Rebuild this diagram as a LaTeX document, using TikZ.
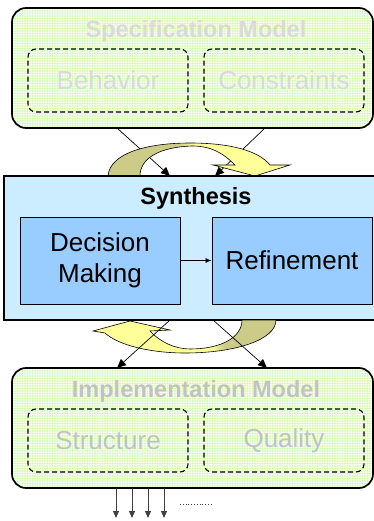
\documentclass[tikz,border=0pt]{standalone}
\usepackage{fontspec}
\setmainfont{Liberation Sans}
\usetikzlibrary{arrows.meta,patterns.meta}

\definecolor{dotgreen}{RGB}{204,255,153}
\definecolor{palegreen}{RGB}{246,253,238}
\definecolor{synthblue}{RGB}{204,236,255}
\definecolor{stageblue}{RGB}{153,204,255}
\definecolor{loopolive}{RGB}{204,204,136}
\definecolor{loopyellow}{RGB}{255,255,153}
\definecolor{fadetext}{RGB}{218,218,218}
\definecolor{greytext}{RGB}{194,194,194}

% two-tone fill of the round arrows (path box = 25bp..75bp)
\pgfdeclarehorizontalshading{loopup}{100bp}{color(0bp)=(loopolive); color(44bp)=(loopolive); color(49bp)=(loopyellow); color(100bp)=(loopyellow)}
\pgfdeclarehorizontalshading{loopdown}{100bp}{color(0bp)=(loopyellow); color(57bp)=(loopyellow); color(61bp)=(loopolive); color(100bp)=(loopolive)}

\begin{document}
\begin{tikzpicture}[x=1pt,y=-1pt,
  model/.style={draw, line width=1.7pt, rounded corners=14pt, preaction={fill=palegreen},
    pattern={Dots[distance=2.5pt,radius=0.8pt]}, pattern color=dotgreen,
    minimum width=361pt, minimum height=120pt, inner sep=0pt},
  part/.style={draw, dashed, dash pattern=on 5pt off 3pt, line width=1.1pt, rounded corners=8pt,
    minimum width=160pt, minimum height=63pt, inner sep=0pt, font=\fontsize{26}{31}\selectfont},
  title/.style={font=\fontsize{23.5}{28}\selectfont\bfseries, inner sep=0pt},
  stage/.style={draw, line width=1pt, fill=stageblue, minimum width=160pt, minimum height=87pt,
    inner sep=0pt, align=center, font=\fontsize{26}{31}\selectfont},
  flow/.style={line width=0.7pt, -{Triangle[length=9pt,width=8pt]}},
  loop/.style={draw=black, line width=0.6pt},
  emit/.style={line width=0.9pt, draw=black!75, -{Triangle[length=7pt,width=6pt]}}]
\useasboundingbox (0,0) rectangle (373,521);

% specification
\node[model] (spec) at (192.5,68) {};
\node[title, text=fadetext] (spectitle) at (196,31) {Specification Model};
\node[part, text=fadetext] (behav) at (108,80.5) {Behavior};
\node[part, text=fadetext] (constr) at (284,80.5) {Constraints};

\coordinate (specL) at (117,128);
\coordinate (specR) at (265,128);
\coordinate (inL) at (170,176);
\coordinate (inR) at (215,176);
\draw[flow] (specL) -- (inL);
\draw[flow] (specR) -- (inR);

% upper round arrow
\shade[loop, shading=loopup] (108,176) .. controls (110,152) and (150,143) .. (190,143)
  .. controls (228,143) and (258,150) .. (270,165) -- (290,165) -- (255,176) -- (213,165) -- (235,165)
  .. controls (222,152) and (210,146) .. (192,146) .. controls (160,147) and (140,158) .. (140,176) -- cycle;

% synthesis
\node[draw, line width=1.7pt, fill=synthblue, minimum width=374pt, minimum height=144pt, inner sep=0pt] (synth) at (191,248) {};
\node[title] (synthtitle) at (196,198) {Synthesis};
\node[stage] (decide) at (100,260.5) {Decision\\Making};
\node[stage] (refine) at (292,260.5) {Refinement};
\draw[line width=0.7pt, -{Latex[length=6pt,width=5pt]}] (decide) -- (refine);

% lower round arrow
\shade[loop, shading=loopdown] (276,320) .. controls (276,340) and (235,353) .. (185,353)
  .. controls (150,353) and (118,345) .. (105,333) -- (93,331) -- (130,321) -- (170,330) -- (150,331)
  .. controls (160,342) and (175,349) .. (190,349) .. controls (220,349) and (242,338) .. (242,320) -- cycle;

\coordinate (outL) at (170,320);
\coordinate (outR) at (213,320);
\coordinate (implL) at (117,368);
\coordinate (implR) at (267,368);
\draw[flow] (outL) -- (implL);
\draw[flow] (outR) -- (implR);

% implementation
\node[model] (impl) at (192.5,428) {};
\node[title, text=greytext] (impltitle) at (196,391) {Implementation Model};
\node[part, text=greytext] (struct) at (108,440.5) {Structure};
\node[part, text=greytext] (qual) at (284,440.5) {Quality};

\foreach \x in {116,132,148,164} {
  \coordinate (o\x) at (\x,518);
  \draw[emit] (impl.south -| o\x) -- (o\x);
}
\draw[line width=0.8pt, dotted, draw=black!75] (180,504.5) -- (212,504.5);
\end{tikzpicture}
\end{document}
